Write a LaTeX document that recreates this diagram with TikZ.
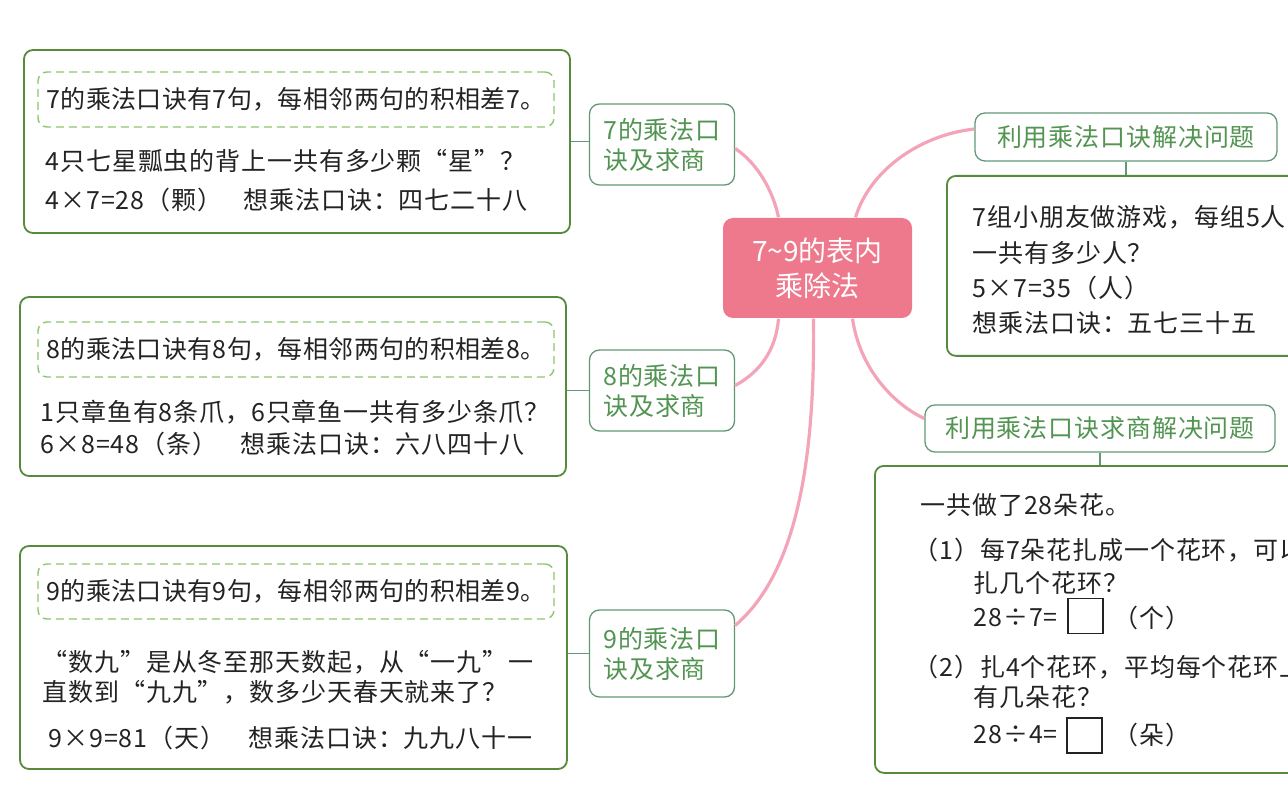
\documentclass[tikz,border=0pt]{standalone}
\usepackage{fontspec}
\setmainfont{Noto Sans CJK SC}
\newfontfamily\cuerpo[LetterSpace=3.5]{Noto Sans CJK SC}
\newfontfamily\punto[LetterSpace=1.5]{Noto Sans CJK SC}
\usetikzlibrary{positioning}
\definecolor{rosa}{RGB}{238,120,140}
\definecolor{rosaclaro}{RGB}{244,164,184}
\definecolor{verde}{RGB}{86,138,60}
\definecolor{verdeazul}{RGB}{98,152,118}
\definecolor{verdetexto}{RGB}{82,148,82}
\definecolor{verdeclaro}{RGB}{140,198,110}
\definecolor{tinta}{RGB}{35,35,35}

\begin{document}
\begin{tikzpicture}[x=1pt,y=-1pt,line width=1.4pt,
  caja/.style={draw=verde,line width=1.8pt,rounded corners=9pt,inner sep=0pt},
  punteada/.style={draw=verdeclaro,line width=1.4pt,dash pattern=on 8pt off 5pt,rounded corners=9pt,
    minimum height=55pt,minimum width=516pt,inner sep=0pt,text=tinta,font=\punto\fontsize{25}{30}\selectfont},
  rama/.style={draw=verdeazul,line width=1.3pt,rounded corners=10pt,text=verdetexto,align=left,
    inner sep=0pt,font=\cuerpo\fontsize{25}{30}\selectfont},
  txt/.style={anchor=west,inner sep=0pt,text=tinta,font=\cuerpo\fontsize{25}{30}\selectfont},
  cuadro/.style={draw=tinta,line width=1.1pt,minimum width=35pt,minimum height=35pt,inner sep=0pt},
  curva/.style={draw=rosaclaro,line width=3.2pt}]
  \clip (0,0) rectangle (1288,799);
  % nodo central
  \node[fill=rosa,rounded corners=10pt,minimum width=189pt,minimum height=100pt,text=white,align=center,
    font=\fontsize{28}{35}\selectfont] (centro) at (817.5,268) {7\textasciitilde9的表内\\乘除法};
  % ramas de la izquierda
  \foreach \n/\y/\h in {7/144.5/81,8/390.5/81,9/653.5/87}
    \node[rama,minimum width=145pt,minimum height=\h pt] (lab\n) at (662,\y) {{\n}的乘法口\\诀及求商};
  \node[caja,minimum width=546pt,minimum height=183pt] (caja7) at (297,141.5) {};
  \node[caja,minimum width=546pt,minimum height=179pt] (caja8) at (293,386.5) {};
  \node[caja,minimum width=547pt,minimum height=223pt] (caja9) at (293.5,657.5) {};
  \foreach \n/\y in {7/99.5,8/349.5,9/591.5}
    \node[punteada] (punt\n) at (296,\y) {{\n}的乘法口诀有{\n}句，每相邻两句的积相差{\n}。};
  \node[txt] (t71) at (45,161) {4只七星瓢虫的背上一共有多少颗“星”？};
  \node[txt] (t72) at (45,200) {4×7=28（颗）};
  \node[txt] (t73) at (243,200) {想乘法口诀：四七二十八};
  \node[txt] (t81) at (40,412) {1只章鱼有8条爪，6只章鱼一共有多少条爪？};
  \node[txt] (t82) at (40,444) {6×8=48（条）};
  \node[txt] (t83) at (240,444) {想乘法口诀：六八四十八};
  \node[txt] (t91) at (42,662) {“数九”是从冬至那天数起，从“一九”一};
  \node[txt] (t92) at (42,692) {直数到“九九”，数多少天春天就来了？};
  \node[txt] (t93) at (48,738) {9×9=81（天）};
  \node[txt] (t94) at (248,738) {想乘法口诀：九九八十一};
  \draw[verdeazul,line width=1.3pt] (caja7.east) -- (caja7.east -| lab7.west);
  \draw[verdeazul,line width=1.3pt] (lab8.west) -- (lab8.west -| caja8.east);
  \draw[verdeazul,line width=1.3pt] (lab9.west) -- (lab9.west -| caja9.east);
  % ramas de la derecha
  \node[rama,minimum width=302pt,minimum height=48pt] (labA) at (1126,137) {利用乘法口诀解决问题};
  \node[rama,minimum width=350pt,minimum height=47pt] (labB) at (1100,428.5) {利用乘法口诀求商解决问题};
  \node[caja,anchor=north west,minimum width=380pt,minimum height=180pt] (cajaA) at (946,175) {};
  \node[caja,anchor=north west,minimum width=450pt,minimum height=307pt] (cajaB) at (874,465) {};
  \draw[verdeazul,line width=1.3pt] (labA.south) -- (labA.south |- cajaA.north);
  \draw[verdeazul,line width=1.3pt] (labB.south) -- (labB.south |- cajaB.north);
  \node[txt] (tA1) at (972,217) {7组小朋友做游戏，每组5人};
  \node[txt] (tA2) at (972,253) {一共有多少人？};
  \node[txt] (tA3) at (972,288) {5×7=35（人）};
  \node[txt] (tA4) at (972,323) {想乘法口诀：五七三十五};
  \node[txt] (tB1) at (920,505) {一共做了28朵花。};
  \node[txt] (tB2) at (913,550) {（1）每7朵花扎成一个花环，可以};
  \node[txt] (tB3) at (973,583) {扎几个花环？};
  \node[txt] (tB4) at (973,618) {28÷7=};
  \node[cuadro] (cB1) at (1085.5,616) {};
  \node[txt] (tB5) at (1113,618) {（个）};
  \node[txt] (tB6) at (913,667) {（2）扎4个花环，平均每个花环上};
  \node[txt] (tB7) at (973,697) {有几朵花？};
  \node[txt] (tB8) at (973,735) {28÷4=};
  \node[cuadro] (cB2) at (1084.5,735.5) {};
  \node[txt] (tB9) at (1113,735) {（朵）};
  % conexiones rosas
  \draw[curva] ([xshift=-39pt]centro.north) .. controls (774,195) and (760,165) .. ([yshift=-4pt]lab7.east);
  \draw[curva] ([xshift=38pt]centro.north) .. controls (870,170) and (920,135) .. ([yshift=8pt]labA.west);
  \draw[curva] ([xshift=-39pt]centro.south) .. controls (776,350) and (760,372) .. ([yshift=5pt]lab8.east);
  \draw[curva] ([xshift=-4pt]centro.south) .. controls (815,450) and (800,570) .. ([yshift=28pt]lab9.east);
  \draw[curva] ([xshift=35pt]centro.south) .. controls (860,370) and (895,405) .. ([yshift=10pt]labB.west);
\end{tikzpicture}
\end{document}
